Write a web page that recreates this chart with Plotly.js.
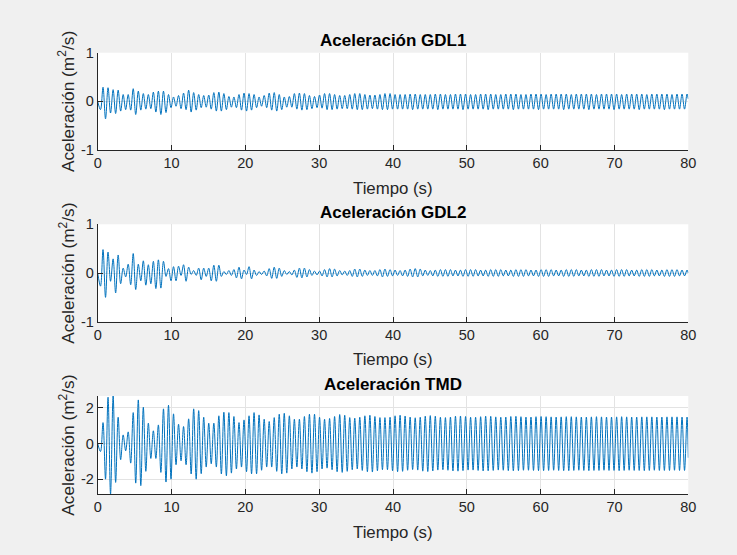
<!DOCTYPE html>
<html>
<head>
<meta charset="utf-8">
<script src="https://cdn.plot.ly/plotly-3.0.1.min.js"></script>
<style>
  html, body { margin: 0; padding: 0; background: #f0f0f0; }
  #grafico { width: 737px; height: 555px; }
</style>
</head>
<body>
<div id="grafico"></div>
<script>
// Tiempos (s): inicio, extremos sucesivos (valle, pico, valle, ...) y final
const tiempo = [0,
  0.38,0.72,1.06,1.40,1.74,2.09,2.43,2.77,3.11,3.45,
  3.79,4.13,4.47,4.81,5.15,5.50,5.84,6.18,6.52,6.86,
  7.20,7.54,7.88,8.22,8.56,8.91,9.25,9.59,9.93,10.27,
  10.61,10.95,11.29,11.63,11.97,12.32,12.66,13.00,13.34,13.68,
  14.02,14.36,14.70,15.04,15.38,15.73,16.07,16.41,16.75,17.09,
  17.43,17.77,18.11,18.45,18.79,19.14,19.48,19.82,20.16,20.50,
  20.84,21.18,21.52,21.86,22.20,22.55,22.89,23.23,23.57,23.91,
  24.25,24.59,24.93,25.27,25.61,25.96,26.30,26.64,26.98,27.32,
  27.66,28.00,28.34,28.68,29.02,29.37,29.71,30.05,30.39,30.73,
  31.07,31.41,31.75,32.09,32.43,32.78,33.12,33.46,33.80,34.14,
  34.48,34.82,35.16,35.50,35.84,36.19,36.53,36.87,37.21,37.55,
  37.89,38.23,38.57,38.91,39.25,39.60,39.94,40.28,40.62,40.96,
  41.30,41.64,41.98,42.32,42.66,43.01,43.35,43.69,44.03,44.37,
  44.71,45.05,45.39,45.73,46.07,46.42,46.76,47.10,47.44,47.78,
  48.12,48.46,48.80,49.14,49.48,49.83,50.17,50.51,50.85,51.19,
  51.53,51.87,52.21,52.55,52.89,53.24,53.58,53.92,54.26,54.60,
  54.94,55.28,55.62,55.96,56.30,56.65,56.99,57.33,57.67,58.01,
  58.35,58.69,59.03,59.37,59.71,60.06,60.40,60.74,61.08,61.42,
  61.76,62.10,62.44,62.78,63.12,63.47,63.81,64.15,64.49,64.83,
  65.17,65.51,65.85,66.19,66.53,66.87,67.22,67.56,67.90,68.24,
  68.58,68.92,69.26,69.60,69.94,70.29,70.63,70.97,71.31,71.65,
  71.99,72.33,72.67,73.01,73.35,73.70,74.04,74.38,74.72,75.06,
  75.40,75.74,76.08,76.42,76.76,77.11,77.45,77.79,78.13,78.47,
  78.81,79.15,79.49,79.83,
  80];

// GDL1: valores en los valles y en los picos de cada ciclo (m2/s)
const gdl1Valles = [
  -0.17,-0.36,-0.24,-0.25,-0.20,-0.17,-0.18,-0.27,-0.18,-0.16,
  -0.15,-0.22,-0.27,-0.23,-0.13,-0.10,-0.15,-0.17,-0.22,-0.18,
  -0.13,-0.12,-0.16,-0.20,-0.20,-0.17,-0.12,-0.13,-0.18,-0.20,
  -0.18,-0.13,-0.10,-0.13,-0.18,-0.20,-0.17,-0.12,-0.12,-0.16,
  -0.18,-0.17,-0.15,-0.13,-0.14,-0.17,-0.17,-0.16,-0.15,-0.15,
  -0.16,-0.17,-0.17,-0.16,-0.15,-0.16,-0.17,-0.17,-0.16,-0.16,
  -0.16,-0.16,-0.17,-0.16,-0.16,-0.16,-0.16,-0.17,-0.16,-0.16,
  -0.16,-0.16,-0.17,-0.16,-0.16,-0.16,-0.16,-0.17,-0.16,-0.16,
  -0.16,-0.16,-0.17,-0.16,-0.16,-0.16,-0.16,-0.17,-0.16,-0.16,
  -0.16,-0.16,-0.17,-0.16,-0.16,-0.16,-0.16,-0.17,-0.16,-0.16,
  -0.16,-0.16,-0.17,-0.16,-0.16,-0.16,-0.16,-0.17,-0.16,-0.16,
  -0.16,-0.16,-0.17,-0.16,-0.16,-0.16,-0.16];
const gdl1Picos = [
  0.29,0.28,0.24,0.23,0.14,0.14,0.26,0.21,0.16,0.14,
  0.19,0.21,0.21,0.14,0.09,0.12,0.17,0.23,0.18,0.14,
  0.12,0.13,0.18,0.19,0.16,0.10,0.09,0.14,0.17,0.16,
  0.14,0.09,0.12,0.17,0.18,0.14,0.09,0.10,0.16,0.17,
  0.16,0.12,0.10,0.13,0.16,0.16,0.14,0.12,0.12,0.14,
  0.16,0.16,0.14,0.13,0.13,0.14,0.16,0.16,0.14,0.14,
  0.14,0.15,0.15,0.14,0.14,0.14,0.15,0.15,0.14,0.14,
  0.15,0.15,0.15,0.14,0.14,0.15,0.15,0.15,0.14,0.14,
  0.15,0.15,0.15,0.14,0.14,0.15,0.15,0.15,0.14,0.15,
  0.15,0.15,0.15,0.14,0.15,0.15,0.15,0.15,0.14,0.15,
  0.15,0.15,0.15,0.14,0.15,0.15,0.15,0.15,0.14,0.15,
  0.15,0.15,0.15,0.14,0.15,0.15,0.15];
const gdl1Extremos = [0, 0.05];   // valor inicial y final

// GDL2
const gdl2Valles = [
  -0.27,-0.50,-0.17,-0.41,-0.22,-0.08,-0.24,-0.34,-0.16,-0.25,
  -0.22,-0.32,-0.31,-0.07,-0.16,-0.16,-0.05,-0.17,-0.03,-0.05,
  -0.14,-0.07,-0.16,-0.17,-0.07,-0.03,-0.05,-0.10,-0.12,-0.03,
  -0.12,-0.05,-0.03,-0.06,-0.11,-0.11,-0.07,-0.03,-0.04,-0.09,
  -0.10,-0.08,-0.05,-0.04,-0.06,-0.08,-0.08,-0.06,-0.04,-0.05,
  -0.07,-0.08,-0.07,-0.05,-0.05,-0.06,-0.08,-0.07,-0.06,-0.05,
  -0.06,-0.07,-0.08,-0.08,-0.06,-0.05,-0.06,-0.07,-0.07,-0.07,
  -0.06,-0.06,-0.07,-0.07,-0.07,-0.06,-0.06,-0.07,-0.07,-0.07,
  -0.06,-0.06,-0.07,-0.07,-0.07,-0.06,-0.06,-0.07,-0.07,-0.07,
  -0.06,-0.06,-0.07,-0.07,-0.07,-0.06,-0.06,-0.07,-0.07,-0.07,
  -0.06,-0.06,-0.07,-0.07,-0.07,-0.06,-0.06,-0.07,-0.07,-0.07,
  -0.06,-0.06,-0.07,-0.07,-0.07,-0.06,-0.06];
const gdl2Picos = [
  0.48,0.43,0.29,0.37,0.10,0.18,0.40,0.18,0.25,0.17,
  0.24,0.27,0.24,0.09,0.13,0.14,0.17,0.12,0.05,0.10,
  0.10,0.10,0.16,0.16,0.03,0.05,0.07,0.12,0.06,0.13,
  0.06,0.03,0.04,0.09,0.12,0.10,0.05,0.03,0.06,0.10,
  0.10,0.07,0.04,0.04,0.07,0.09,0.08,0.05,0.04,0.05,
  0.08,0.08,0.06,0.05,0.05,0.07,0.08,0.07,0.06,0.05,
  0.06,0.08,0.09,0.08,0.06,0.05,0.06,0.07,0.07,0.07,
  0.06,0.06,0.07,0.07,0.07,0.06,0.06,0.07,0.07,0.07,
  0.06,0.06,0.07,0.07,0.07,0.06,0.06,0.07,0.07,0.07,
  0.06,0.06,0.07,0.07,0.07,0.06,0.06,0.07,0.07,0.07,
  0.06,0.06,0.07,0.07,0.07,0.06,0.06,0.07,0.07,0.07,
  0.06,0.06,0.07,0.07,0.07,0.06,0.06];
const gdl2Extremos = [0, 0.0];

// TMD
const tmdValles = [
  -0.45,-2.00,-2.83,-2.18,-0.91,-0.41,-1.10,-2.22,-2.36,-1.56,
  -0.84,-0.84,-1.62,-2.16,-2.00,-1.19,-0.97,-1.19,-1.71,-2.00,
  -1.69,-1.32,-1.14,-1.32,-1.71,-1.81,-1.66,-1.43,-1.32,-1.58,
  -1.70,-1.70,-1.50,-1.32,-1.32,-1.56,-1.70,-1.66,-1.43,-1.32,
  -1.43,-1.58,-1.66,-1.58,-1.43,-1.38,-1.47,-1.58,-1.62,-1.56,
  -1.47,-1.43,-1.51,-1.58,-1.60,-1.53,-1.47,-1.47,-1.53,-1.58,
  -1.56,-1.50,-1.46,-1.49,-1.55,-1.57,-1.54,-1.49,-1.47,-1.50,
  -1.54,-1.55,-1.52,-1.49,-1.49,-1.51,-1.54,-1.53,-1.51,-1.49,
  -1.50,-1.52,-1.53,-1.52,-1.50,-1.50,-1.51,-1.52,-1.52,-1.51,
  -1.50,-1.51,-1.52,-1.52,-1.51,-1.50,-1.51,-1.52,-1.51,-1.51,
  -1.50,-1.51,-1.51,-1.52,-1.51,-1.50,-1.51,-1.51,-1.52,-1.51,
  -1.50,-1.51,-1.51,-1.51,-1.50,-1.51,-1.51];
const tmdPicos = [
  1.17,2.59,2.66,1.47,0.48,0.65,1.73,2.44,2.03,1.14,
  0.71,1.04,1.94,2.14,1.66,1.08,0.95,1.38,1.94,1.84,
  1.47,1.14,1.14,1.55,1.75,1.73,1.51,1.17,1.32,1.55,
  1.73,1.60,1.36,1.23,1.45,1.64,1.69,1.55,1.36,1.36,
  1.51,1.64,1.64,1.47,1.36,1.40,1.51,1.62,1.58,1.45,
  1.42,1.47,1.55,1.58,1.51,1.45,1.45,1.47,1.55,1.58,
  1.54,1.48,1.44,1.47,1.53,1.56,1.53,1.47,1.45,1.48,
  1.53,1.54,1.51,1.47,1.47,1.50,1.53,1.52,1.49,1.47,
  1.48,1.51,1.52,1.50,1.48,1.48,1.50,1.51,1.50,1.49,
  1.48,1.49,1.50,1.50,1.49,1.48,1.48,1.49,1.50,1.49,
  1.48,1.48,1.49,1.50,1.49,1.48,1.48,1.49,1.49,1.49,
  1.48,1.48,1.49,1.49,1.49,1.48,1.48];
const tmdExtremos = [0, -0.8];

const ticksX = [0, 10, 20, 30, 40, 50, 60, 70, 80];
const ticksGDL = [-1, 0, 1];
const ticksTMD = [-2, 0, 2];

const titulos = ['Aceleración GDL1', 'Aceleración GDL2', 'Aceleración TMD'];
const etiquetaX = 'Tiempo (s)';
const etiquetaY = 'Aceleración (m<sup>2</sup>/s)';

// Intercala valles y picos entre el valor inicial y el final
function serie(valles, picos, extremos) {
  const y = [extremos[0]];
  for (let j = 0; j < valles.length; j++) { y.push(valles[j], picos[j]); }
  y.push(extremos[1]);
  return y;
}

const azul = '#0072bd';
const linea = { color: azul, width: 1, shape: 'spline', smoothing: 1 };
const traces = [
  { x: tiempo, y: serie(gdl1Valles, gdl1Picos, gdl1Extremos), xaxis: 'x', yaxis: 'y', mode: 'lines', line: linea, hoverinfo: 'skip' },
  { x: tiempo, y: serie(gdl2Valles, gdl2Picos, gdl2Extremos), xaxis: 'x2', yaxis: 'y2', mode: 'lines', line: linea, hoverinfo: 'skip' },
  { x: tiempo, y: serie(tmdValles, tmdPicos, tmdExtremos), xaxis: 'x3', yaxis: 'y3', mode: 'lines', line: linea, hoverinfo: 'skip' }
];

const W = 737, H = 555;
const fuente = '"Liberation Sans", Arial, Helvetica, sans-serif';
const gris = '#262626';
const xDom = [97.7 / W, 688.3 / W];
// límites verticales de cada eje (px desde arriba)
const cajas = [[52.7, 150.0], [224.3, 321.7], [396.0, 494.0]];
const yDom = cajas.map(c => [1 - c[1] / H, 1 - c[0] / H]);

function ejeX(anchor, dom) {
  return {
    domain: dom, anchor: anchor, range: [0, 80], tickmode: 'array', tickvals: ticksX,
    ticktext: ticksX.map(String), showgrid: true, gridcolor: '#e3e3e3', gridwidth: 1,
    zeroline: false, showline: true, linecolor: gris, linewidth: 1, ticks: 'inside',
    ticklen: 5, tickcolor: gris, tickfont: { family: fuente, size: 14.5, color: gris }, fixedrange: true
  };
}
function ejeY(anchor, dom, rango, vals) {
  return {
    domain: dom, anchor: anchor, range: rango, tickmode: 'array', tickvals: vals,
    ticktext: vals.map(v => String(v)), showgrid: true, gridcolor: '#e3e3e3', gridwidth: 1,
    zeroline: false, showline: true, linecolor: gris, linewidth: 1, ticks: 'inside',
    ticklen: 5, tickcolor: gris, tickfont: { family: fuente, size: 14.5, color: gris }, fixedrange: true
  };
}

const anotaciones = [];
const yTitulo = [40, 212, 384];
const yEtiqX = [188, 359, 532];
const xCentro = (xDom[0] + xDom[1]) / 2;
for (let i = 0; i < 3; i++) {
  anotaciones.push({
    xref: 'paper', yref: 'paper', x: xCentro, y: 1 - yTitulo[i] / H, xanchor: 'center', yanchor: 'middle',
    text: titulos[i], showarrow: false, font: { family: fuente, size: 17, color: '#000000', weight: 'bold' }
  });
  anotaciones.push({
    xref: 'paper', yref: 'paper', x: xCentro, y: 1 - yEtiqX[i] / H, xanchor: 'center', yanchor: 'middle',
    text: etiquetaX, showarrow: false, font: { family: fuente, size: 16.8, color: gris }
  });
  anotaciones.push({
    xref: 'paper', yref: 'paper', x: 66.7 / W, y: (yDom[i][0] + yDom[i][1]) / 2, xanchor: 'center', yanchor: 'middle',
    text: etiquetaY, textangle: -90, showarrow: false, font: { family: fuente, size: 17.3, color: gris }
  });
}

const layout = {
  width: W, height: H, margin: { l: 0, r: 0, t: 0, b: 0 },
  paper_bgcolor: '#f0f0f0', plot_bgcolor: '#ffffff', showlegend: false,
  xaxis: ejeX('y', xDom), yaxis: ejeY('x', yDom[0], [-1, 1], ticksGDL),
  xaxis2: ejeX('y2', xDom), yaxis2: ejeY('x2', yDom[1], [-1, 1], ticksGDL),
  xaxis3: ejeX('y3', xDom), yaxis3: ejeY('x3', yDom[2], [-2.83, 2.66], ticksTMD),
  annotations: anotaciones
};

Plotly.newPlot('grafico', traces, layout, { displayModeBar: false, staticPlot: true });
</script>
</body>
</html>
